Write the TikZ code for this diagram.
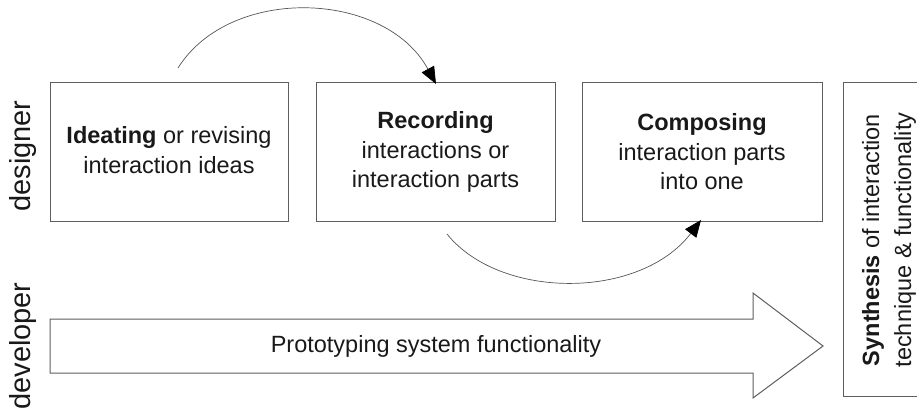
\documentclass[tikz,border=0pt]{standalone}
\usepackage{fontspec}
\setmainfont{Liberation Sans}
\usetikzlibrary{arrows.meta}
\definecolor{boxline}{HTML}{5E5E5E}
\definecolor{arcline}{HTML}{555555}
\begin{document}
\begin{tikzpicture}[x=1pt,y=-1pt,
  stepbox/.style={draw=boxline,line width=1pt,inner sep=0pt},
  bodytext/.style={font=\fontsize{23.5}{29.5}\selectfont,align=center,text=black!90},
  lanelabel/.style={font=\fontsize{29}{34}\selectfont,rotate=90,text=black!90},
  flow/.style={draw=arcline,line width=0.7pt,-{Triangle[length=17pt,width=14pt,color=black]}}]
\useasboundingbox (0,0) rectangle (917,409);
\clip (0,0) rectangle (917,409);
% boxes
\draw[stepbox] (50,83) rectangle (288,221);
\draw[stepbox] (316,83) rectangle (555,221);
\draw[stepbox] (582,83) rectangle (822,221);
\draw[stepbox] (843,83) rectangle (930,396);
\node[bodytext] (b1) at (169,150) {\textbf{Ideating} or revising\\interaction ideas};
\node[bodytext] (b2) at (435.5,152) {\textbf{Recording}\\interactions or\\interaction parts};
\node[bodytext] (b3) at (702,152) {\textbf{Composing}\\interaction parts\\into one};
\node[bodytext,rotate=90,font=\fontsize{23.5}{32}\selectfont] (syn) at (889,240) {\textbf{Synthesis} of interaction\\technique \& functionality};
% lane labels
\node[lanelabel] (des) at (23,156) {designer};
\node[lanelabel] (dev) at (23,346) {developer};
% big arrow
\draw[boxline,line width=1pt] (50,319) -- (753,319) -- (753,293) -- (823,346) -- (753,398) -- (753,373) -- (50,373) -- cycle;
\node[bodytext] (proto) at (436,346) {Prototyping system functionality};
% arcs
\coordinate (a1s) at (178,68);
\coordinate (a1e) at (436,84);
\coordinate (a2s) at (447,234);
\coordinate (a2e) at (701,220);
\draw[flow] (a1s) .. controls (230,-15) and (385,-10) .. (a1e);
\draw[flow] (a2s) .. controls (500,300) and (640,300) .. (a2e);
\end{tikzpicture}
\end{document}
